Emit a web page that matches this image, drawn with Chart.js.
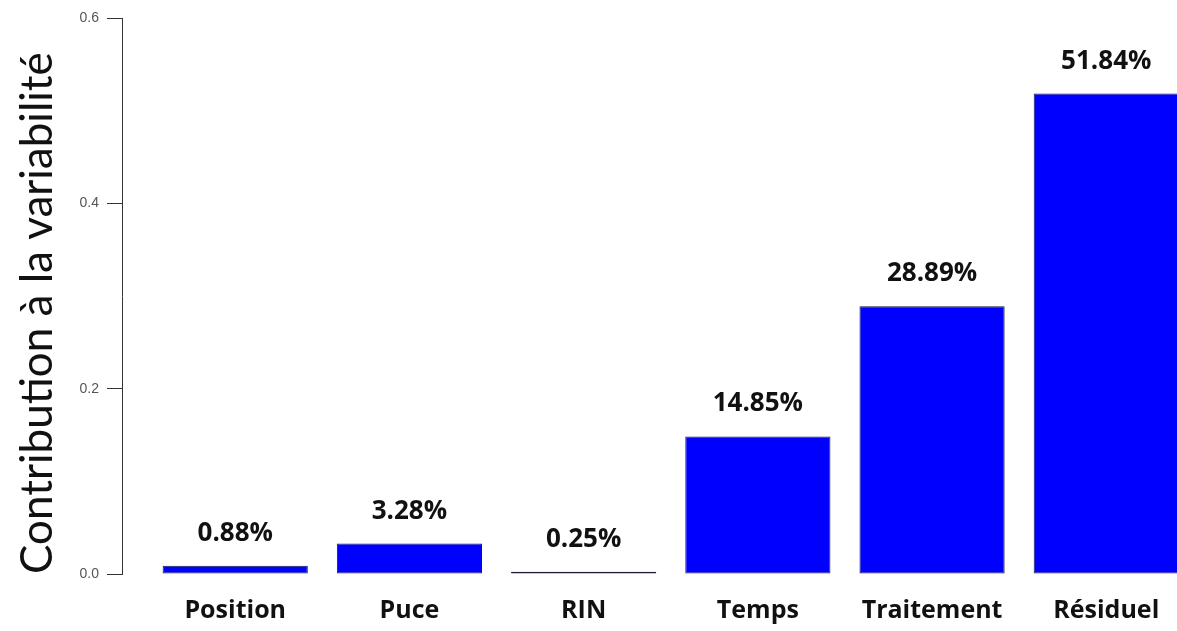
<!DOCTYPE html>
<html>
<head>
<meta charset="utf-8">
<script src="https://cdn.jsdelivr.net/npm/chart.js@4"></script>
<style>
html,body{margin:0;padding:0;background:#fff;overflow:hidden;}
canvas{display:block;}
</style>
</head>
<body>
<canvas id="c" width="1177" height="631"></canvas>
<script>
const categories = ['Position', 'Puce', 'RIN', 'Temps', 'Traitement', 'Résiduel'];
const contributions = [0.0088, 0.0328, 0.0025, 0.1485, 0.2889, 0.5184];
const yTicks = [0, 0.2, 0.4, 0.6];
const yTitle = 'Contribution à la variabilité';

const barLabels = {
  id: 'barLabels',
  afterDatasetsDraw(chart) {
    const ctx = chart.ctx;
    const meta = chart.getDatasetMeta(0);
    ctx.save();
    ctx.font = 'bold 26px "Open Sans"';
    ctx.fillStyle = '#111';
    ctx.textAlign = 'center';
    ctx.textBaseline = 'alphabetic';
    meta.data.forEach((bar, i) => {
      ctx.fillText((contributions[i] * 100).toFixed(2) + '%', bar.x, bar.y - 25);
    });
    ctx.restore();
  }
};

new Chart(document.getElementById('c'), {
  type: 'bar',
  data: {
    datasets: [{
      data: contributions.map((v, i) => ({ x: i, y: v })),
      backgroundColor: '#0000FF',
      borderColor: '#1c1c3c',
      borderWidth: 1,
      borderSkipped: false,
      barPercentage: 1 / 1.2,
      categoryPercentage: 1
    }]
  },
  options: {
    responsive: false,
    animation: false,
    devicePixelRatio: 1,
    layout: { padding: { top: 18, left: 0, right: 0, bottom: 0 } },
    plugins: { legend: { display: false }, tooltip: { enabled: false } },
    scales: {
      x: {
        type: 'linear',
        offset: false,
        min: -0.65,
        max: 5.406,
        afterBuildTicks: s => { s.ticks = categories.map((_, i) => ({ value: i })); },
        afterFit: s => { s.height = 57; s.paddingLeft = 0; s.paddingRight = 0; },
        grid: { display: false, drawTicks: false },
        border: { display: false },
        ticks: {
          autoSkip: false,
          maxRotation: 0,
          padding: 22,
          color: '#111',
          font: { family: 'Open Sans', size: 25, weight: 'bold' },
          callback: (v, i) => categories[i]
        }
      },
      y: {
        min: 0,
        max: 0.6,
        afterBuildTicks: s => { s.ticks = yTicks.map(v => ({ value: v })); },
        afterFit: s => { s.width = 122; },
        grid: { drawOnChartArea: false, drawTicks: true, tickLength: 15, tickColor: '#333', tickWidth: 1 },
        border: { display: true, color: '#333', width: 1 },
        ticks: {
          padding: 8,
          color: '#555',
          font: { family: 'Liberation Sans', size: 14 },
          callback: v => v.toFixed(1)
        },
        title: {
          display: true,
          text: yTitle,
          align: 'start',
          color: '#111',
          padding: { top: 11, bottom: 0 },
          font: { family: 'Lato', size: 44, weight: 'normal' }
        }
      }
    }
  },
  plugins: [barLabels]
});
</script>
</body>
</html>
